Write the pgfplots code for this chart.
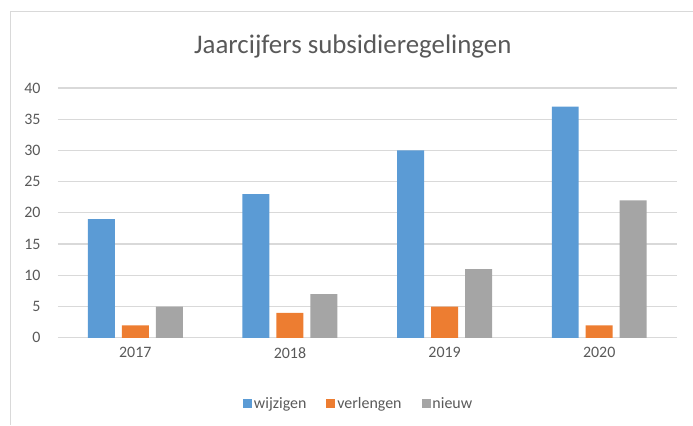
\documentclass[border=0pt]{standalone}
\usepackage{fontspec}
\setmainfont{Carlito}
\usepackage{pgfplots}
\pgfplotsset{compat=1.18}

\definecolor{cblue}{HTML}{5B9BD5}
\definecolor{corange}{HTML}{ED7D31}
\definecolor{cgray}{HTML}{A5A5A5}
\definecolor{txt}{HTML}{595959}
\definecolor{gridc}{HTML}{D9D9D9}

\begin{document}
\begin{tikzpicture}
\begin{axis}[
    scale only axis,
    width=619bp, height=250bp,
    xmin=-0.5, xmax=3.5,
    ymin=0, ymax=40,
    ytick={0,5,...,40},
    xtick={0,1,2,3},
    xticklabels={2017,2018,2019,2020},
    ymajorgrids,
    xmajorgrids=false,
    grid style={draw=gridc, line width=1.2bp},
    axis line style={draw=none},
    major tick length=0pt,
    ybar=7bp,
    bar width=27bp,
    ticklabel style={font=\fontsize{16}{18}\selectfont, text=txt},
    /pgf/number format/assume math mode=true,
    yticklabel style={xshift=-14bp},
    xticklabel style={yshift=-6bp},
    clip=false,
    legend style={
        at={(rel axis cs:0.486,-0.264)}, anchor=center,
        draw=none, fill=none,
        font=\fontsize{16}{18}\selectfont, text=txt,
        legend columns=-1,
        /tikz/every even column/.append style={column sep=18bp},
    },
    legend image code/.code={\fill[#1] (0bp,-4.5bp) rectangle (9bp,4.5bp);},
]
\draw[draw=gridc, line width=1.2bp] (rel axis cs:0,0) -- (rel axis cs:1,0);
\addplot[fill=cblue, draw=none] coordinates {(0,19) (1,23) (2,30) (3,37)};
\addplot[fill=corange, draw=none] coordinates {(0,2) (1,4) (2,5) (3,2)};
\addplot[fill=cgray, draw=none] coordinates {(0,5) (1,7) (2,11) (3,22)};
\legend{wijzigen, verlengen, nieuw}
\node[font=\fontsize{27}{30}\selectfont, text=txt] at (rel axis cs:0.4766,1.164) {Jaarcijfers subsidieregelingen};
\draw[draw=gridc, line width=1bp] (rel axis cs:-0.0775,-0.348) -- (rel axis cs:-0.0775,1.304) -- (rel axis cs:1.0258,1.304);
\path[use as bounding box] (rel axis cs:-0.0937,-0.348) rectangle (rel axis cs:1.0258,1.352);
\end{axis}
\end{tikzpicture}
\end{document}
